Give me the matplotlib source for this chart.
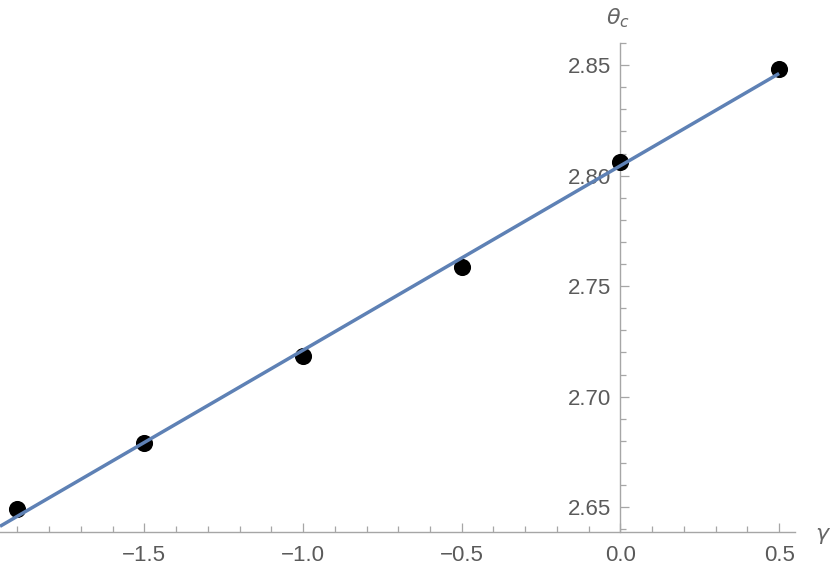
import numpy as np
import matplotlib
matplotlib.use("Agg")
import matplotlib.pyplot as plt
from matplotlib.ticker import MultipleLocator, FixedLocator

# data
gamma = [-1.9, -1.5, -1.0, -0.5, 0.0, 0.5]
theta_c = [2.6491, 2.6792, 2.7184, 2.7586, 2.8063, 2.8482]
x_major = [-1.5, -1.0, -0.5, 0.0, 0.5]
x_labels = ["\u22121.5", "\u22121.0", "\u22120.5", "0.0", "0.5"]
y_major = [2.65, 2.70, 2.75, 2.80, 2.85]
y_labels = ["2.65", "2.70", "2.75", "2.80", "2.85"]

plt.rcParams['font.family'] = ['Liberation Sans', 'DejaVu Sans']

fig = plt.figure(figsize=(8.3, 5.72), dpi=100)
ax = fig.add_axes([0.0, 0.0691, 0.9578, 0.8558])
ax.set_xlim(-1.955, 0.55)
ax.set_ylim(2.6386, 2.86)

# linear fit of the points
b, a = np.polyfit(gamma, theta_c, 1)
xf = np.array([-1.955, 0.5])
ax.plot(xf, a + b * xf, color='#5E81B5', lw=2.5, zorder=4, solid_capstyle='butt')
ax.plot(gamma, theta_c, 'o', color='black', ms=11.3, zorder=3, clip_on=False)

axis_col = '#a6a6a6'
txt_col = '#5a5a5a'
for s in ['top', 'right']:
    ax.spines[s].set_visible(False)
ax.spines['left'].set_position(('data', 0.0))
ax.spines['left'].set_color(axis_col)
ax.spines['bottom'].set_color(axis_col)
ax.spines['left'].set_linewidth(1.0)
ax.spines['bottom'].set_linewidth(1.0)

ax.xaxis.set_major_locator(FixedLocator(x_major))
ax.set_xticklabels(x_labels)
ax.xaxis.set_minor_locator(MultipleLocator(0.1))
ax.yaxis.set_major_locator(FixedLocator(y_major))
ax.set_yticklabels(y_labels)
ax.yaxis.set_minor_locator(MultipleLocator(0.01))

ax.tick_params(which='both', direction='in', color=axis_col, labelcolor=txt_col,
               labelsize=16, width=0.9)
ax.tick_params(which='major', length=6.5)
ax.tick_params(which='minor', length=4)
ax.tick_params(axis='x', pad=9)
ax.tick_params(axis='y', pad=7)

fig.text(823 / 830, 1 - 536 / 572, r'$\gamma$', color='#666666', fontsize=16,
         ha='center', va='center')
fig.text(618 / 830, 1 - 18 / 572, r'$\theta_c$', color='#666666', fontsize=16,
         ha='center', va='center')

fig.savefig('out.png', dpi=100)
